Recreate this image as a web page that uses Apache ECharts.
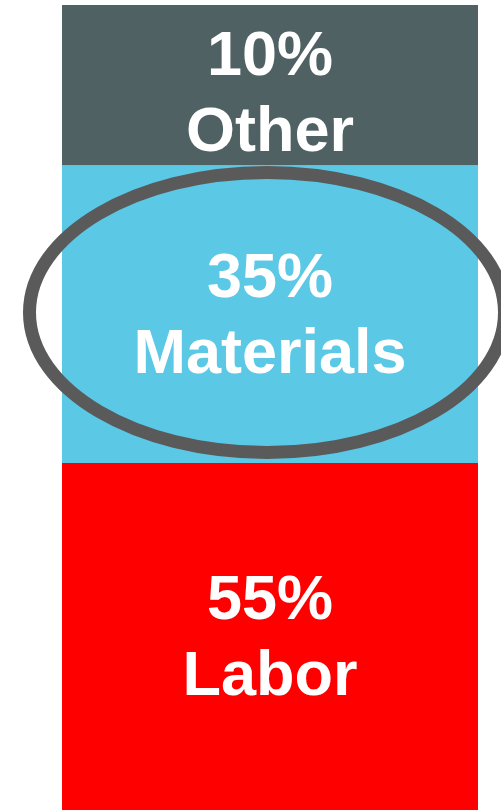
<!DOCTYPE html>
<html>
<head>
<meta charset="utf-8">
<script src="https://cdn.jsdelivr.net/npm/echarts@6/dist/echarts.min.js"></script>
<style>
  html, body { margin: 0; padding: 0; background: #fff; }
  #chart { width: 501px; height: 810px; }
</style>
</head>
<body>
<div id="chart"></div>
<script>
  // segments, bottom to top
  const names = ["Labor", "Materials", "Other"];
  const shares = [55, 35, 10];            // printed percentages
  const heights = [43.1, 37.0, 19.9];     // drawn segment heights (% of bar)
  const colors = ["#ff0000", "#5bc8e5", "#4f6163"];
  const labelOffsets = [[0, 3], [0, 4], [0, 11]];

  const chart = echarts.init(document.getElementById("chart"));

  const option = {
    animation: false,
    grid: { left: 62, right: 23, top: 5, bottom: 0 },
    xAxis: { type: "category", data: ["cost"], show: false },
    yAxis: { type: "value", min: 0, max: 100, show: false },
    series: names.map((name, i) => ({
      name: name,
      type: "bar",
      stack: "total",
      barWidth: "100%",
      data: [heights[i]],
      itemStyle: { color: colors[i] },
      label: {
        show: true,
        position: "inside",
        offset: labelOffsets[i],
        formatter: shares[i] + "%\n" + name,
        color: "#fff",
        fontFamily: "Liberation Sans, Arial, sans-serif",
        fontWeight: "bold",
        fontSize: 63,
        lineHeight: 76,
      },
    })),
    graphic: [
      {
        type: "ellipse",
        shape: { cx: 267, cy: 312.5, rx: 237.5, ry: 140 },
        style: { fill: "none", stroke: "#5a5a5a", lineWidth: 13 },
        z: 100,
      },
    ],
  };
  chart.setOption(option);
</script>
</body>
</html>
